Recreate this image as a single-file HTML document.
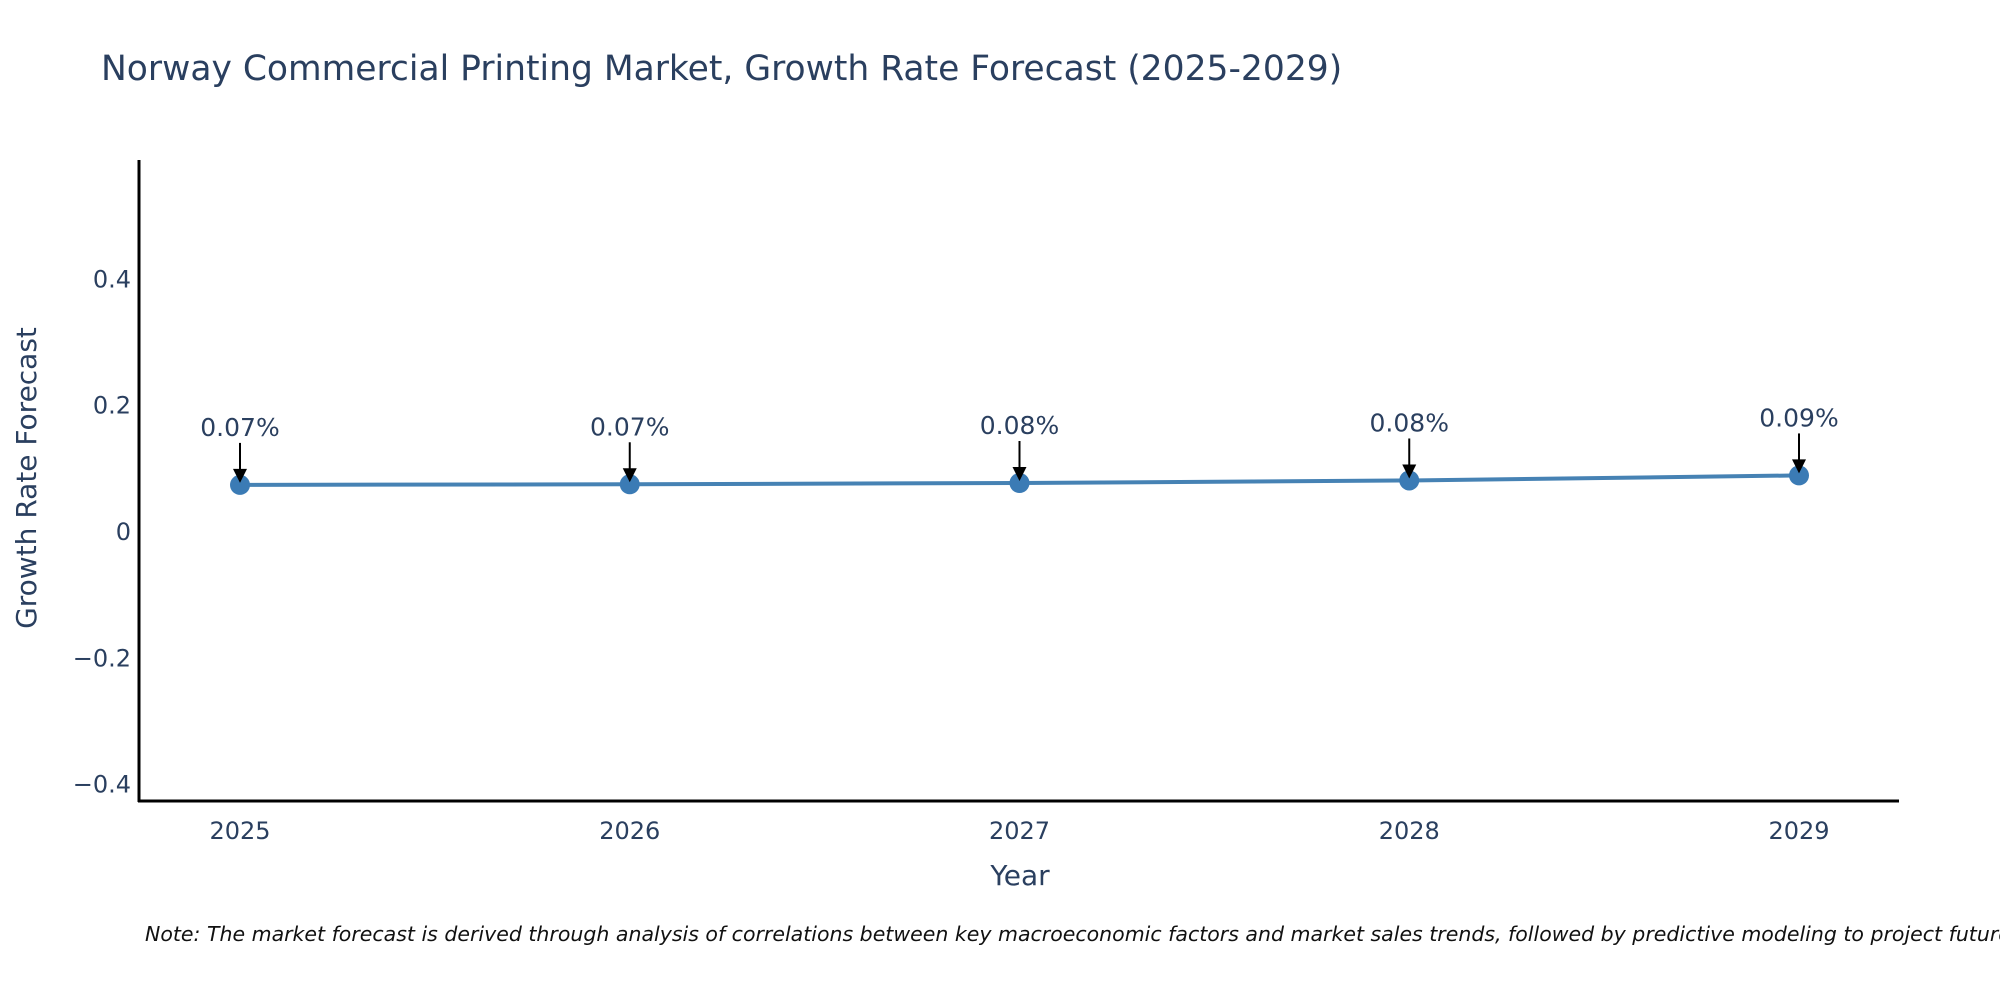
<!DOCTYPE html>
<html>
<head>
<meta charset="utf-8">
<style>
  html,body{margin:0;padding:0;background:#fff;overflow:hidden;}
  svg{display:block;}
  text{font-family:"DejaVu Sans","Liberation Sans",sans-serif;}
</style>
</head>
<body>
<svg id="chart" width="2000" height="1000" viewBox="0 0 2000 1000" xmlns="http://www.w3.org/2000/svg">
  <rect x="0" y="0" width="2000" height="1000" fill="#fff"/>
  <text x="101" y="80" font-size="34.5" fill="#2a3f5f">Norway Commercial Printing Market, Growth Rate Forecast (2025-2029)</text>
  <g id="yticks"></g>
  <g id="xticks"></g>
  <g id="series"></g>
  <g id="annots"></g>
  <line x1="139" y1="160" x2="139" y2="802" stroke="#000" stroke-width="3"/>
  <line x1="138" y1="801" x2="1899" y2="801" stroke="#000" stroke-width="3"/>
  <text x="1020" y="885" font-size="28" fill="#2a3f5f" text-anchor="middle">Year</text>
  <text transform="translate(36,478) rotate(-90)" font-size="28" fill="#2a3f5f" text-anchor="middle">Growth Rate Forecast</text>
  <text x="145" y="941" font-size="20.5" font-style="italic" fill="#111">Note: The market forecast is derived through analysis of correlations between key macroeconomic factors and market sales trends, followed by predictive modeling to project future sales.</text>
</svg>
<script>
const years = [2025, 2026, 2027, 2028, 2029];
const values = [0.073, 0.074, 0.076, 0.080, 0.088];
const labels = ["0.07%", "0.07%", "0.08%", "0.08%", "0.09%"];
const yTicks = [-0.4, -0.2, 0, 0.2, 0.4];
const yTickLabels = ["\u22120.4", "\u22120.2", "0", "0.2", "0.4"];

const NS = "http://www.w3.org/2000/svg";
function xScale(v){ return 240 + (v - 2025) * 389.75; }
function yScale(v){ return 531 - v * 631.5; }
function mk(tag, attrs){ const e = document.createElementNS(NS, tag); for (const k in attrs) e.setAttribute(k, attrs[k]); return e; }

const yg = document.getElementById('yticks');
yTicks.forEach((t, i) => {
  const tx = mk('text', {x: 131, y: yScale(t) + 9, 'font-size': 24, fill: '#2a3f5f', 'text-anchor': 'end'});
  
  
  tx.textContent = yTickLabels[i];
  yg.appendChild(tx);
});

const xg = document.getElementById('xticks');
years.forEach(y => {
  const tx = mk('text', {x: xScale(y), y: 839, 'font-size': 24, fill: '#2a3f5f', 'text-anchor': 'middle'});
  
  
  tx.textContent = String(y);
  xg.appendChild(tx);
});

const sg = document.getElementById('series');
const pts = years.map((y, i) => xScale(y) + ',' + yScale(values[i])).join(' ');
const line = mk('polyline', {points: pts, fill: 'none', stroke: '#4682b4', 'stroke-width': 4});


sg.appendChild(line);
years.forEach((y, i) => {
  const c = mk('circle', {cx: xScale(y), cy: yScale(values[i]), r: 10, fill: '#3b7bb5'});
  
  
  sg.appendChild(c);
});

const ag = document.getElementById('annots');
years.forEach((y, i) => {
  const x = xScale(y), py = yScale(values[i]);
  const t = mk('text', {x: x, y: py - 49, 'font-size': 25, fill: '#2a3f5f', 'text-anchor': 'middle'});
  
  
  t.textContent = labels[i];
  ag.appendChild(t);
  const l = mk('line', {x1: x, y1: py - 42, x2: x, y2: py - 14, stroke: '#000', 'stroke-width': 2});
  
  
  ag.appendChild(l);
  const h = mk('polygon', {points: (x-7)+','+(py-16)+' '+(x+7)+','+(py-16)+' '+x+','+(py-2), fill: '#000'});
  
  
  ag.appendChild(h);
});
</script>
</body>
</html>
